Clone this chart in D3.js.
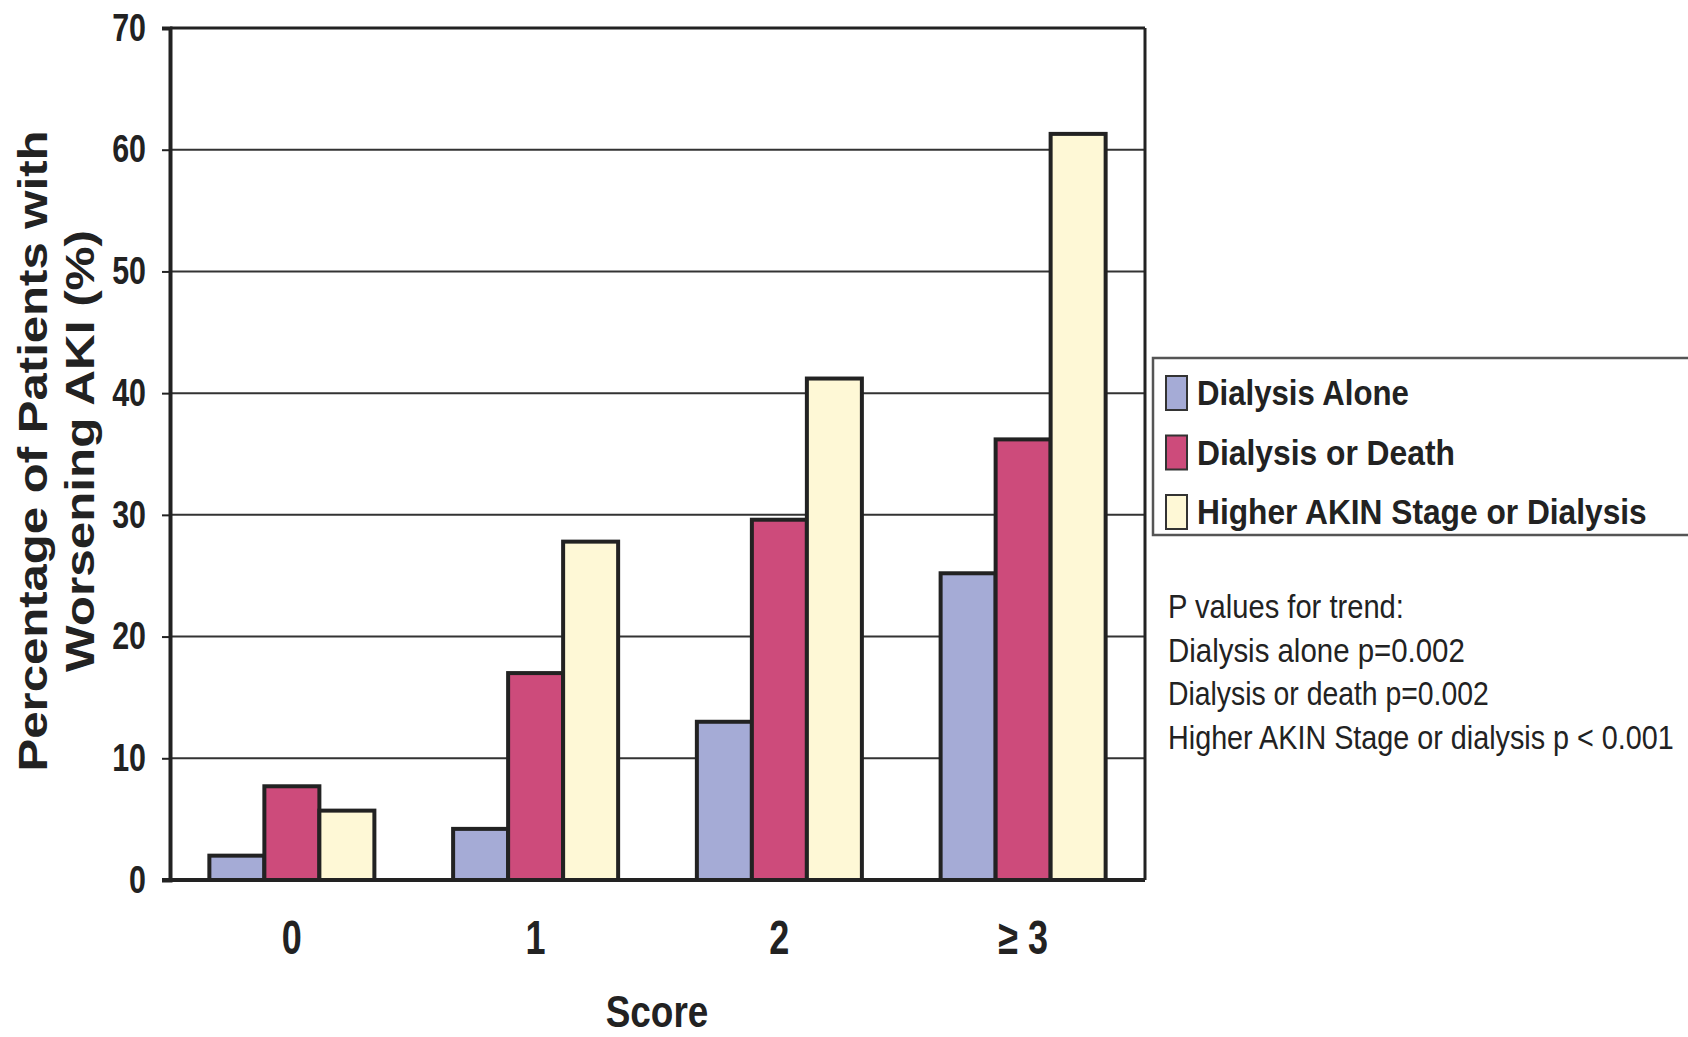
<!DOCTYPE html>
<html>
<head>
<meta charset="utf-8">
<script src="https://cdn.jsdelivr.net/npm/d3@7"></script>
<style>
  html, body { margin: 0; padding: 0; background: #fff; }
  svg { display: block; }
  .narrow { font-family: "Liberation Sans Narrow", "Arial Narrow", "Liberation Sans", Arial, sans-serif; }
  .wide { font-family: "Liberation Sans", Arial, Helvetica, sans-serif; }
</style>
</head>
<body>
<svg id="chart" width="1688" height="1037"></svg>
<script>
// ---- data ----
const categories = ["0", "1", "2", "\u2265 3"];
const seriesNames = ["Dialysis Alone", "Dialysis or Death", "Higher AKIN Stage or Dialysis"];
const dialysisAlone = [2.0, 4.2, 13.0, 25.2];
const dialysisOrDeath = [7.7, 17.0, 29.6, 36.2];
const higherAkin = [5.7, 27.8, 41.2, 61.3];
const yTicks = [0, 10, 20, 30, 40, 50, 60, 70];
const pValueLines = [
  "P values for trend:",
  "Dialysis alone p=0.002",
  "Dialysis or death p=0.002",
  "Higher AKIN Stage or dialysis p < 0.001"
];
const colors = ["#a5abd6", "#cd4b7b", "#fef8d6"];

const series = [dialysisAlone, dialysisOrDeath, higherAkin];
const ink = "#222";

const svg = d3.select("#chart");
const pLeft = 170, pRight = 1145, pTop = 28, pBottom = 880;

// condense text horizontally (emulates a narrow face)
function condense(sel, f) {
  sel.each(function () {
    const w = this.getComputedTextLength();
    d3.select(this).attr("textLength", w * f).attr("lengthAdjust", "spacingAndGlyphs");
  });
}
// scale a text (placed at origin of its own group) to a target width
function fitWidth(sel, widthFn) {
  sel.each(function (d, i) {
    const w = this.getComputedTextLength();
    const f = widthFn(d, i) / w;
    d3.select(this).attr("transform", `scale(${f},1)`);
  });
}

const x = d3.scaleBand().domain(categories).range([pLeft, pRight])
  .paddingInner(0.323).paddingOuter(0.1615);
const xSub = d3.scaleBand().domain(d3.range(series.length)).range([0, x.bandwidth()]);
const y = d3.scaleLinear().domain([0, 70]).range([pBottom, pTop]);

// gridlines
svg.append("g").selectAll("line")
  .data(yTicks.filter(t => t > 0 && t < 70))
  .join("line")
  .attr("x1", pLeft).attr("x2", pRight)
  .attr("y1", d => y(d)).attr("y2", d => y(d))
  .attr("stroke", "#333").attr("stroke-width", 2);

// top and right frame
svg.append("line").attr("x1", pLeft).attr("x2", pRight).attr("y1", y(70)).attr("y2", y(70))
  .attr("stroke", ink).attr("stroke-width", 3);
svg.append("line").attr("x1", pRight).attr("x2", pRight).attr("y1", y(70)).attr("y2", y(0))
  .attr("stroke", ink).attr("stroke-width", 3);

// bars
const groups = svg.append("g").selectAll("g")
  .data(categories)
  .join("g")
  .attr("transform", d => `translate(${x(d)},0)`);
groups.selectAll("rect")
  .data((d, i) => series.map((s, j) => ({ j, v: s[i] })))
  .join("rect")
  .attr("x", d => xSub(d.j))
  .attr("width", xSub.bandwidth())
  .attr("y", d => y(d.v))
  .attr("height", d => y(0) - y(d.v))
  .attr("fill", d => colors[d.j])
  .attr("stroke", ink).attr("stroke-width", 4);

// y axis
const yAxis = svg.append("g").attr("transform", `translate(${pLeft},0)`)
  .call(d3.axisLeft(y).tickValues(yTicks).tickSize(8).tickPadding(16).tickFormat(d3.format("d")));
yAxis.select(".domain").attr("stroke", ink).attr("stroke-width", 4);
yAxis.selectAll(".tick line").attr("stroke", ink).attr("stroke-width", 2);
yAxis.selectAll(".tick text").attr("class", "narrow")
  .attr("font-size", 38).attr("font-weight", "bold").attr("fill", ink)
  .call(condense, 0.8);

// x axis
const xAxis = svg.append("g").attr("transform", `translate(0,${pBottom})`)
  .call(d3.axisBottom(x).tickSize(0).tickPadding(40));
xAxis.select(".domain").attr("stroke", ink).attr("stroke-width", 4)
  .attr("d", `M${pLeft - 8},0H${pRight}`);
xAxis.selectAll(".tick text").attr("class", "narrow")
  .attr("font-size", 48).attr("font-weight", "bold").attr("fill", ink)
  .call(condense, 0.75);

// axis titles
svg.append("text").attr("class", "narrow")
  .attr("x", 657).attr("y", 1027).attr("text-anchor", "middle")
  .attr("font-size", 45).attr("font-weight", "bold").attr("fill", ink)
  .text("Score")
  .call(condense, 0.82);

const yt = svg.append("g").attr("transform", "translate(0,451) rotate(-90)");
yt.append("text").attr("class", "wide")
  .attr("x", 0).attr("y", 47).attr("text-anchor", "middle")
  .attr("font-size", 41).attr("font-weight", "bold").attr("fill", ink)
  .attr("textLength", 641).attr("lengthAdjust", "spacingAndGlyphs")
  .text("Percentage of Patients with");
yt.append("text").attr("class", "wide")
  .attr("x", 0).attr("y", 94).attr("text-anchor", "middle")
  .attr("font-size", 41).attr("font-weight", "bold").attr("fill", ink)
  .attr("textLength", 442).attr("lengthAdjust", "spacingAndGlyphs")
  .text("Worsening AKI (%)");

// legend
svg.append("rect").attr("x", 1153).attr("y", 358).attr("width", 560).attr("height", 177)
  .attr("fill", "none").attr("stroke", "#555").attr("stroke-width", 2.5);
const legendWidths = [212, 258, 450];
const leg = svg.append("g").selectAll("g").data(seriesNames).join("g")
  .attr("transform", (d, i) => `translate(1166,${393 + i * 59.5})`);
leg.append("rect").attr("x", 0).attr("y", -17).attr("width", 21).attr("height", 34)
  .attr("fill", (d, i) => colors[i]).attr("stroke", "#333").attr("stroke-width", 2);
leg.append("g").attr("transform", "translate(31,12)")
  .append("text").attr("class", "narrow")
  .attr("x", 0).attr("y", 0)
  .attr("font-size", 35).attr("font-weight", "bold").attr("fill", ink)
  .text(d => d)
  .call(fitWidth, (d, i) => legendWidths[i]);

// p values
const pWidths = [236, 297, 321, 506];
svg.append("g").selectAll("g").data(pValueLines).join("g")
  .attr("transform", (d, i) => `translate(1168,${618 + i * 43.5})`)
  .append("text").attr("class", "narrow")
  .attr("x", 0).attr("y", 0)
  .attr("font-size", 34).attr("fill", ink)
  .text(d => d)
  .call(fitWidth, (d, i) => pWidths[i]);
</script>
</body>
</html>
